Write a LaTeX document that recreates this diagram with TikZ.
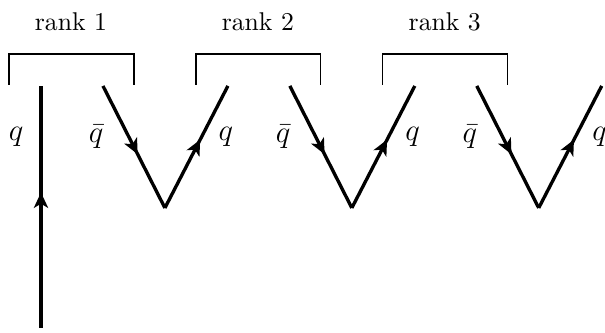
\documentclass[tikz,border=0pt]{standalone}
\usepackage{amsmath}
\usepackage{amssymb}
\usepackage{tikz}
\usetikzlibrary{arrows.meta,decorations.markings}
\tikzset{
  quark/.style={line width=1.3pt,postaction={decorate},
    decoration={markings,mark=at position 0.56 with {\arrow{Stealth[length=6pt,width=5.5pt,inset=1.6pt]}}}},
  rankbox/.style={line width=0.5pt},
  etiket/.style={font=\large}
}

\begin{document}
\begin{tikzpicture}
\useasboundingbox (0,0) rectangle (8.28,4.556);
% gelen kuark
\coordinate (qalt) at (0.561,0.068);
\coordinate (qust) at (0.561,3.38);
\draw[quark] (qalt)--(qust);
\node[etiket] (qsol) at (0.22,2.68) {$q$};
% kuark-antikuark ciftleri
\foreach \i [count=\n] in {0,1,2}{
  \pgfmathsetmacro\dx{2.558*\i}
  \coordinate (sol\n) at ({1.409+\dx},3.38);
  \coordinate (dip\n) at ({2.257+\dx},1.71);
  \coordinate (sag\n) at ({3.119+\dx},3.38);
  \draw[quark] (sol\n)--(dip\n);
  \draw[quark] (dip\n)--(sag\n);
  \node[etiket] (qbar\n) at ({1.315+\dx},2.68) {$\bar{q}$};
  \node[etiket] (q\n) at ({3.09+\dx},2.68) {$q$};
  % rank parantezi
  \draw[rankbox] ({0.123+\dx},3.393) -- ++(0,0.424) -- ++(1.71,0) -- ++(0,-0.424);
  \node (rank\n) at ({0.971+\dx},4.255) {rank \n};
}
\end{tikzpicture}
\end{document}
